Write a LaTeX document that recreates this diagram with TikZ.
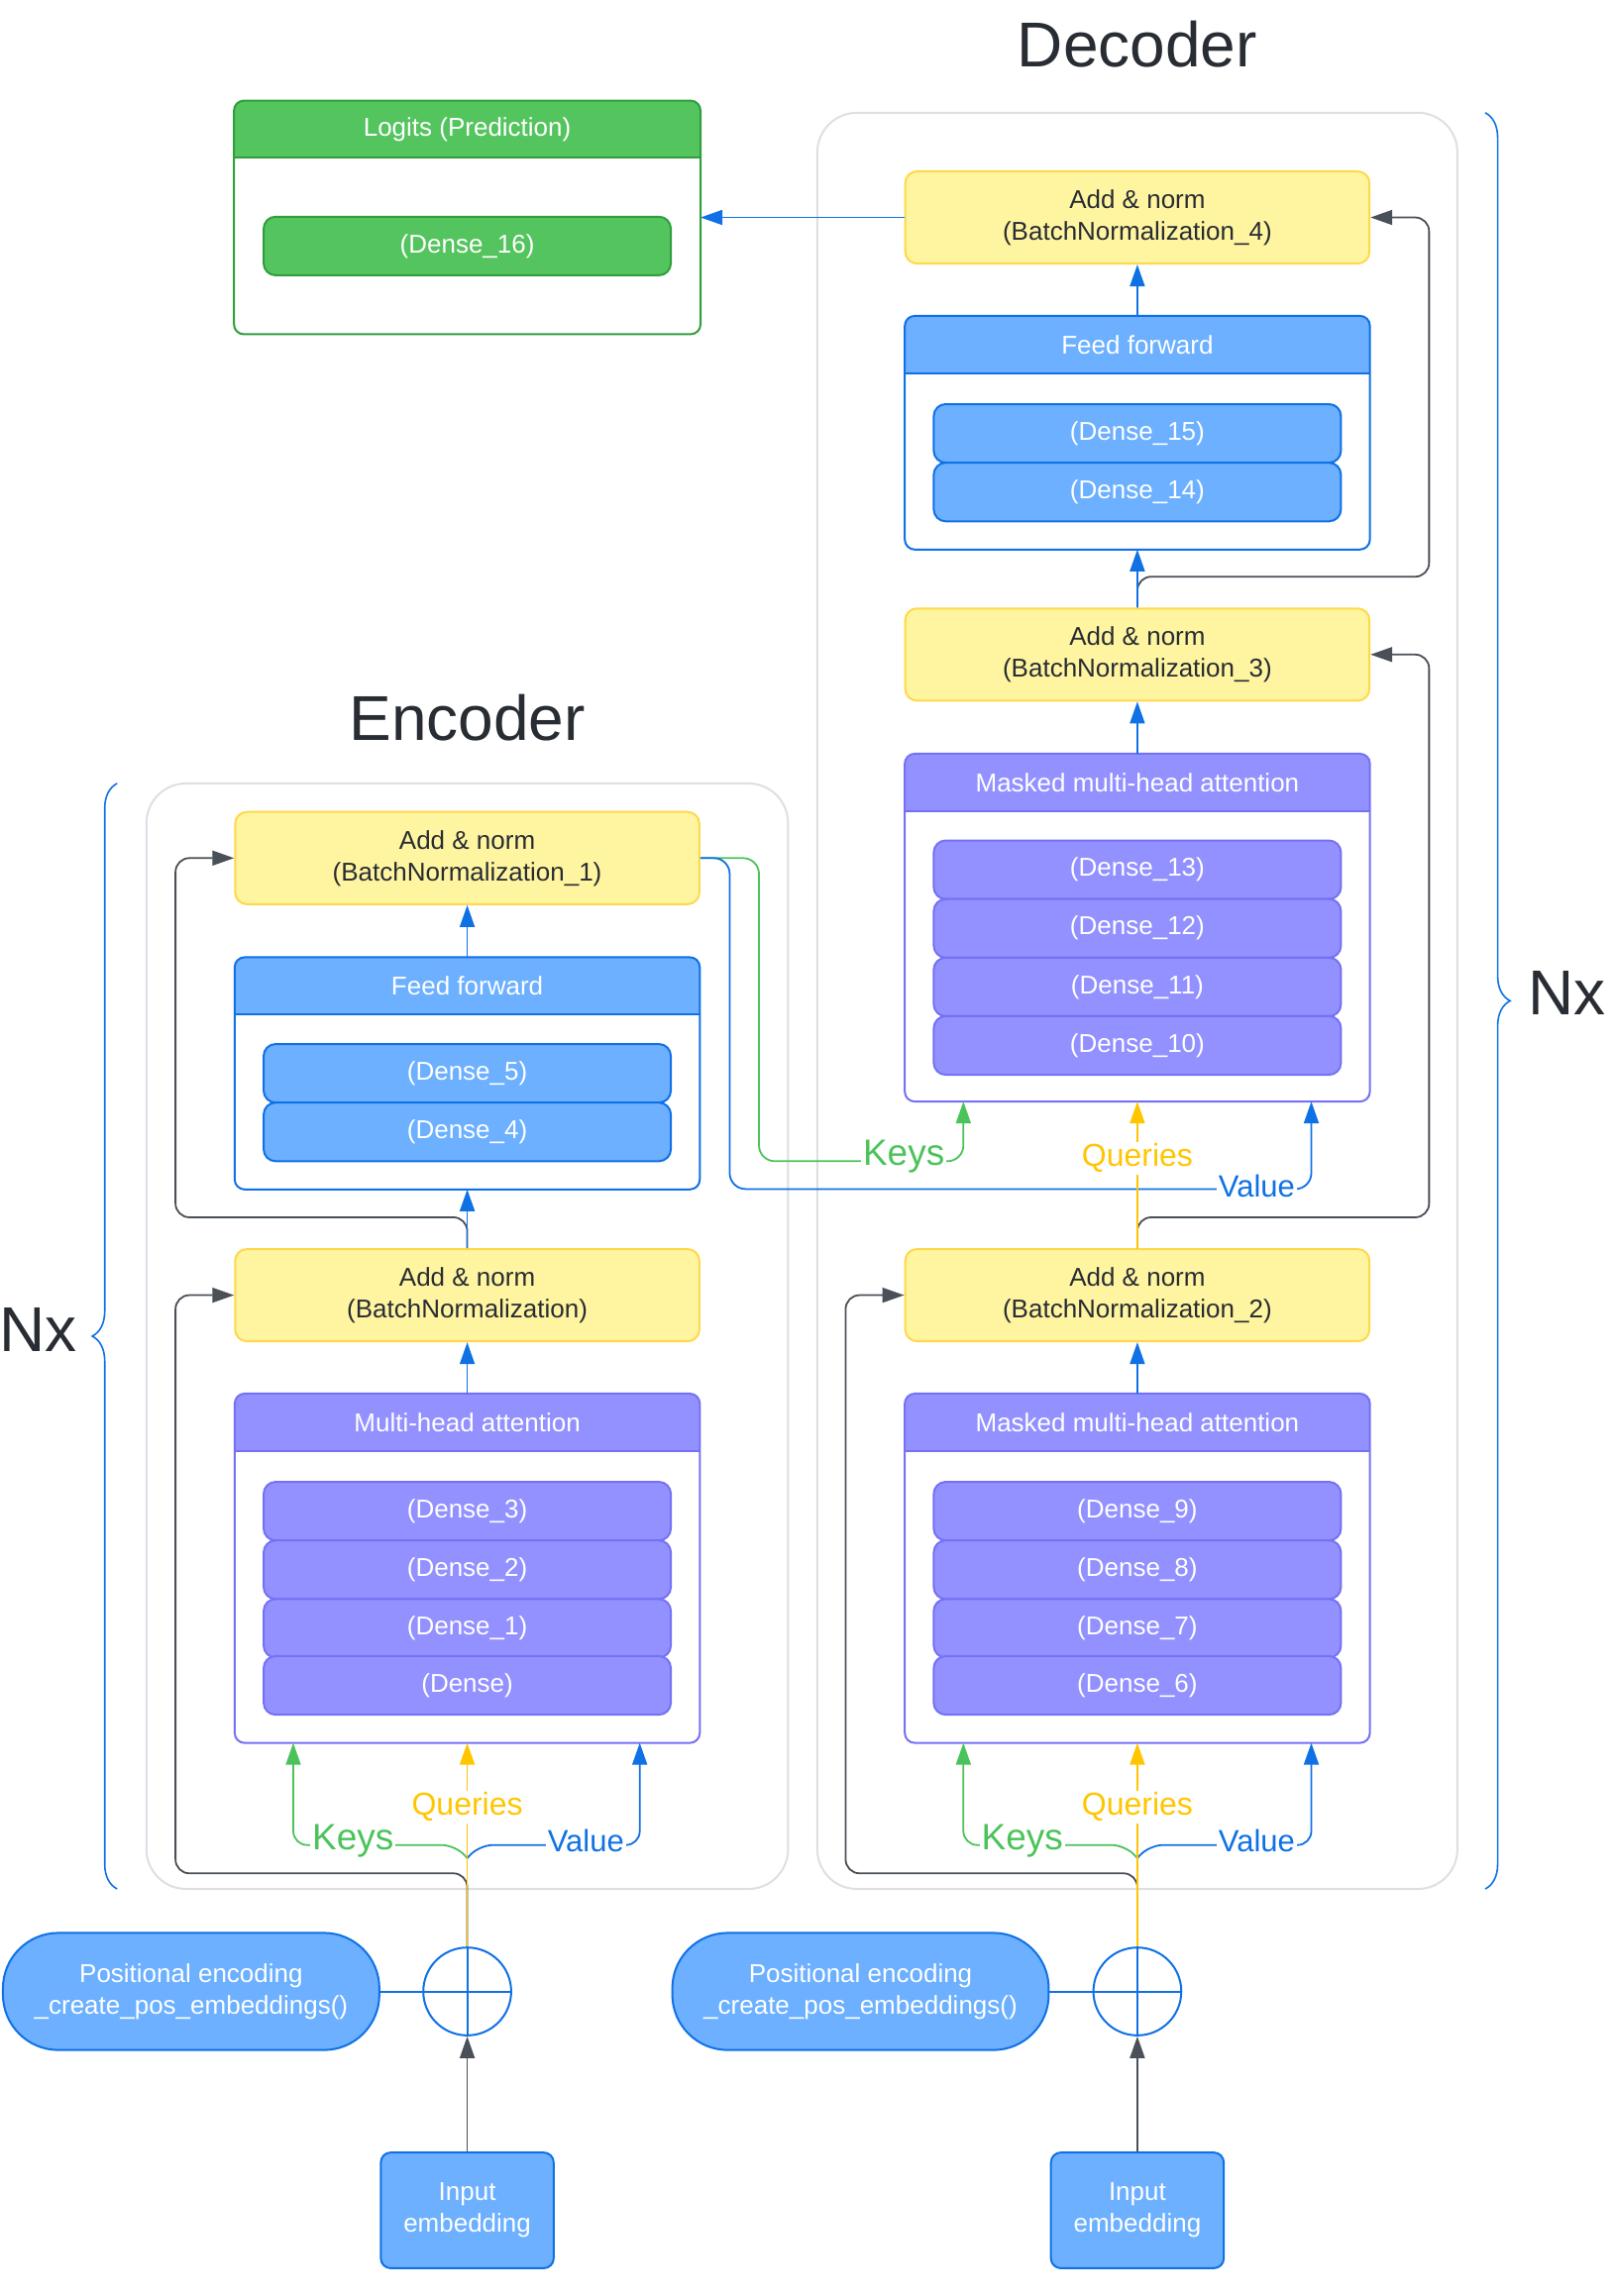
\documentclass[tikz,border=0pt]{standalone}
\usepackage{fontspec}
\setmainfont{Liberation Sans}
\usetikzlibrary{arrows.meta,calc,decorations.pathreplacing}
\def\pxu{0.7391pt}
\definecolor{yfill}{HTML}{FFF5A0}
\definecolor{yline}{HTML}{FFD84A}
\definecolor{bluefill}{HTML}{6CB0FF}
\definecolor{blueline}{HTML}{1071E5}
\definecolor{purpfill}{HTML}{9391FF}
\definecolor{purpline}{HTML}{7471F5}
\definecolor{greenfill}{HTML}{54C45E}
\definecolor{greenline}{HTML}{2F9E3C}
\definecolor{contgrey}{HTML}{DCDFE4}
\definecolor{congrey}{HTML}{4A5058}
\definecolor{keygreen}{HTML}{4CC35A}
\definecolor{qyellow}{HTML}{FFC600}
\definecolor{valblue}{HTML}{1071E5}
\definecolor{txtdark}{HTML}{282C33}
\newcommand\nfont{\fontsize{13}{16}\selectfont}
\newcommand\panelbox[6]{%
  \node[shape=rectangle, draw=none, inner sep=0pt, minimum width=#3*\pxu, minimum height=#4*\pxu] (#1) at #2 {};
  \begin{scope}
    \clip[rounded corners=5pt] (#1.north west) rectangle (#1.south east);
    \fill[white] (#1.north west) rectangle (#1.south east);
    \fill[#5fill] (#1.north west) rectangle ($(#1.north east)+(0,39)$);
  \end{scope}
  \draw[#5line, line width=1pt] ($(#1.north west)+(0,39)$) -- ($(#1.north east)+(0,39)$);
  \draw[#5line, line width=1pt, rounded corners=5pt] (#1.north west) rectangle (#1.south east);
  \node[hdtext] (#1h) at ($(#1.north)+(0,19.5)$) {#6};
}
\tikzset{
  x=0.7391pt, y=-0.7391pt,
  hdtext/.style={font=\nfont, text=white, inner sep=0pt},
  addnorm/.style={rectangle, rounded corners=6pt, fill=yfill, draw=yline, line width=1pt,
    minimum width=317*\pxu, minimum height=63*\pxu, align=center, font=\nfont, text=txtdark, inner sep=0pt},
  layer/.style={rectangle, rounded corners=6pt, fill=#1fill, draw=#1line, line width=1pt,
    minimum width=278*\pxu, minimum height=40*\pxu, font=\nfont, text=white, inner sep=0pt},
  container/.style={rectangle, rounded corners=20pt, draw=contgrey, line width=1pt, inner sep=0pt},
  posenc/.style={rectangle, rounded corners=28pt, fill=bluefill, draw=blueline, line width=1pt,
    minimum width=257*\pxu, minimum height=80*\pxu, align=center, font=\nfont, text=white, inner sep=0pt},
  inemb/.style={rectangle, rounded corners=5pt, fill=bluefill, draw=blueline, line width=1pt,
    minimum width=118*\pxu, minimum height=79*\pxu, align=center, font=\nfont, text=white, inner sep=0pt},
  addcircle/.style={circle, draw=blueline, fill=white, line width=1pt, minimum size=60*\pxu, inner sep=0pt},
  tip/.style={-{Triangle[length=11pt,width=7.5pt]}},
  bluearrow/.style={tip, draw=valblue, line width=0.9pt},
  greyarrow/.style={tip, draw=congrey, line width=0.9pt, rounded corners=7pt},
  keyarrow/.style={tip, draw=keygreen, line width=0.9pt, rounded corners=7pt},
  qarrow/.style={tip, draw=qyellow, line width=0.9pt},
  valarrow/.style={tip, draw=valblue, line width=0.9pt, rounded corners=7pt},
  lab/.style={fill=white, inner sep=1pt},
  keylab/.style={lab, text=keygreen, font=\fontsize{18.5}{22}\selectfont},
  qlab/.style={lab, text=qyellow, font=\fontsize{16}{19}\selectfont},
  vlab/.style={lab, text=valblue, font=\fontsize{15.5}{18}\selectfont},
  title/.style={font=\fontsize{32}{38}\selectfont, text=txtdark, inner sep=0pt},
  bracest/.style={draw=blueline, line width=0.8pt, decorate, decoration={brace, amplitude=17*\pxu}},
}
\begin{document}
\begin{tikzpicture}
\useasboundingbox (0,0) rectangle (1102,1568);

% containers
\node[container, minimum width=437*\pxu, minimum height=1213*\pxu] (decc) at (776.5,683.5) {};
\node[container, minimum width=438*\pxu, minimum height=755*\pxu] (encc) at (319,912.5) {};

% braces and titles
\draw[bracest] (80,1290) -- (80,535);
\draw[bracest] (1014,77) -- (1014,1290);
\node[title] (nxl) at (26,908) {Nx};
\node[title] (nxr) at (1070,678) {Nx};
\node[title] (enct) at (319,490) {Encoder};
\node[title] (dect) at (776.5,30) {Decoder};

% logits
\panelbox{logit}{(319,148.5)}{318}{159}{green}{Logits (Prediction)}
\node[layer=green] (d16) at (319,168) {(Dense\_16)};

% decoder
\node[addnorm] (an4) at (776.5,148.5) {Add \& norm\\(BatchNormalization\_4)};
\panelbox{ffd}{(776.5,295.5)}{317}{159}{blue}{Feed forward}
\node[layer=blue] (d15) at (776.5,296) {(Dense\_15)};
\node[layer=blue] (d14) at (776.5,336) {(Dense\_14)};
\node[addnorm] (an3) at (776.5,447) {Add \& norm\\(BatchNormalization\_3)};
\panelbox{mmt}{(776.5,633.5)}{317}{237}{purp}{Masked multi-head attention}
\node[layer=purp] (d13) at (776.5,594) {(Dense\_13)};
\node[layer=purp] (d12) at (776.5,634) {(Dense\_12)};
\node[layer=purp] (d11) at (776.5,674) {(Dense\_11)};
\node[layer=purp] (d10) at (776.5,714) {(Dense\_10)};
\node[addnorm] (an2) at (776.5,884.5) {Add \& norm\\(BatchNormalization\_2)};
\panelbox{mmb}{(776.5,1071)}{317}{238}{purp}{Masked multi-head attention}
\node[layer=purp] (d9) at (776.5,1032) {(Dense\_9)};
\node[layer=purp] (d8) at (776.5,1072) {(Dense\_8)};
\node[layer=purp] (d7) at (776.5,1112) {(Dense\_7)};
\node[layer=purp] (d6) at (776.5,1151) {(Dense\_6)};

% encoder
\node[addnorm] (an1) at (319,586) {Add \& norm\\(BatchNormalization\_1)};
\panelbox{ffe}{(319,733)}{317}{158}{blue}{Feed forward}
\node[layer=blue] (d5) at (319,733) {(Dense\_5)};
\node[layer=blue] (d4) at (319,773) {(Dense\_4)};
\node[addnorm] (an0) at (319,884.5) {Add \& norm\\(BatchNormalization)};
\panelbox{mha}{(319,1071)}{317}{238}{purp}{Multi-head attention}
\node[layer=purp] (d3) at (319,1032) {(Dense\_3)};
\node[layer=purp] (d2) at (319,1072) {(Dense\_2)};
\node[layer=purp] (d1) at (319,1112) {(Dense\_1)};
\node[layer=purp] (d0) at (319,1151) {(Dense)};

% bottom inputs
\node[posenc] (pee) at (130.5,1360) {Positional encoding\\\_create\_pos\_embeddings()};
\node[posenc] (ped) at (587.5,1360) {Positional encoding\\\_create\_pos\_embeddings()};
\node[addcircle] (cee) at (319,1360) {};
\node[addcircle] (ced) at (776.5,1360) {};
\draw[blueline, line width=1pt] (cee.north) -- (cee.south) (cee.west) -- (cee.east);
\draw[blueline, line width=1pt] (ced.north) -- (ced.south) (ced.west) -- (ced.east);
\node[inemb] (iee) at (319,1509.5) {Input\\embedding};
\node[inemb] (ied) at (776.5,1509.5) {Input\\embedding};

\draw[blueline, line width=1pt] (pee.east) -- (cee.west);
\draw[blueline, line width=1pt] (ped.east) -- (ced.west);
\draw[tip, draw=congrey, line width=0.9pt] (iee.north) -- (cee.south);
\draw[tip, draw=congrey, line width=0.9pt] (ied.north) -- (ced.south);

% junction coordinates and targets
\coordinate (je) at (319,1269);
\coordinate (jd) at (776.5,1269);
\coordinate (ke) at ($(mha.south west)+(40,0)$);
\coordinate (ve) at ($(mha.south east)+(-41,0)$);
\coordinate (kd) at ($(mmb.south west)+(40,0)$);
\coordinate (vd) at ($(mmb.south east)+(-40,0)$);
\coordinate (km) at ($(mmt.south west)+(40,0)$);
\coordinate (vm) at ($(mmt.south east)+(-40,0)$);

% encoder input attention connectors
\draw[greyarrow] (cee.north) -- ++(0,-50) -| ($(an0.west)+(-40,0)$) -- (an0.west);
\draw[keyarrow] (je) -- ++(-8,-9) -| (ke);
\draw[valarrow] (je) -- ++(8,-9) -| (ve);
\draw[qarrow] (cee.north) -- (mha.south);
\node[keylab] (kle) at (241,1257) {Keys};
\node[qlab] (qle) at (319,1234) {Queries};
\node[vlab] (vle) at (400,1257) {Value};

% decoder input attention connectors
\draw[greyarrow] (ced.north) -- ++(0,-50) -| ($(an2.west)+(-40,0)$) -- (an2.west);
\draw[keyarrow] (jd) -- ++(-8,-9) -| (kd);
\draw[valarrow] (jd) -- ++(8,-9) -| (vd);
\draw[qarrow] (ced.north) -- (mmb.south);
\node[keylab] (kld) at (698,1257) {Keys};
\node[qlab] (qld) at (776.5,1234) {Queries};
\node[vlab] (vld) at (858,1257) {Value};

% encoder flow
\draw[bluearrow] (mha.north) -- (an0.south);
\draw[greyarrow] (an0.north) -- ++(0,-21) -| ($(an1.west)+(-40,0)$) -- (an1.west);
\draw[bluearrow] (an0.north) -- (ffe.south);
\draw[bluearrow] (ffe.north) -- (an1.south);

% cross connectors encoder -> decoder
\draw[keyarrow, rounded corners=8pt] (an1.east) -- ++(40,0) -- ++(0,207) -| (km);
\draw[valarrow, rounded corners=8pt] (an1.east) -- ++(20,0) -- ++(0,226) -| (vm);
\draw[greyarrow] (an2.north) -- ++(0,-21) -| ($(an3.east)+(40,0)$) -- (an3.east);
\draw[qarrow] (an2.north) -- (mmt.south);
\node[keylab] (klm) at (617,790) {Keys};
\node[qlab] (qlm) at (776.5,791) {Queries};
\node[vlab] (vlm) at (858,810) {Value};

% decoder flow
\draw[bluearrow] (mmb.north) -- (an2.south);
\draw[bluearrow] (mmt.north) -- (an3.south);
\draw[greyarrow] (an3.north) -- ++(0,-21) -| ($(an4.east)+(40,0)$) -- (an4.east);
\draw[bluearrow] (an3.north) -- (ffd.south);
\draw[bluearrow] (ffd.north) -- (an4.south);
\draw[bluearrow] (an4.west) -- (logit.east);
\end{tikzpicture}
\end{document}
